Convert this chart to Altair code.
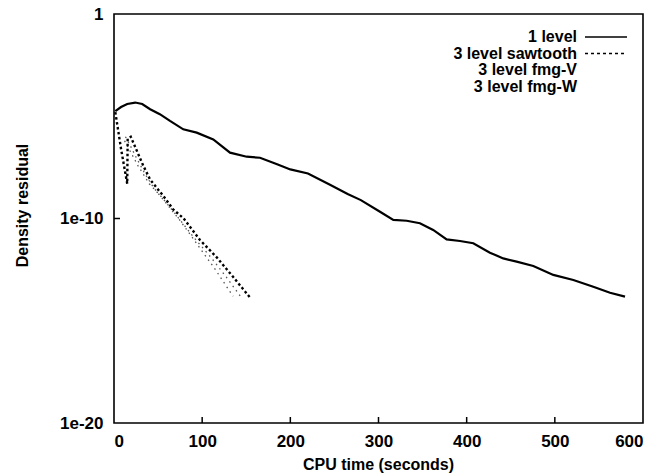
import altair as alt
import pandas as pd

# ---------------- data ----------------
one_t = [1.5, 8, 15, 24, 32, 41, 52, 63.5, 78.6, 93.8, 112.6, 131.6, 150.5, 165.6,
         185, 200, 220, 245, 265, 280, 301.7, 316.8, 332, 347, 362, 377.3, 392.4,
         407.5, 426.4, 441.5, 456.7, 475.6, 498.3, 521, 543.6, 562.6, 579.6]
one_r = [1.78e-5, 2.82e-5, 3.98e-5, 4.68e-5, 3.98e-5, 2.19e-5, 1.26e-5, 5.89e-6,
         2.29e-6, 1.58e-6, 7.41e-7, 1.66e-7, 1.05e-7, 9.33e-8, 4.47e-8, 2.51e-8,
         1.58e-8, 4.47e-9, 1.58e-9, 7.94e-10, 2.14e-10, 8.51e-11, 7.76e-11, 5.89e-11,
         2.75e-11, 9.55e-12, 7.94e-12, 6.17e-12, 2.14e-12, 1.12e-12, 7.76e-13,
         4.79e-13, 1.74e-13, 9.77e-14, 4.57e-14, 2.34e-14, 1.51e-14]

saw_t = [1.5, 8, 15, 15.5, 19, 25, 33, 41, 56, 67, 79, 97.5, 116.5, 135, 154]
saw_r = [1.58e-5, 2.51e-7, 5.01e-9, 7.94e-7, 1.0e-6, 2.51e-7, 3.98e-8, 7.94e-9,
         1.26e-9, 2.82e-10, 1.0e-10, 8.91e-12, 1.26e-12, 1.41e-13, 1.41e-14]

fmgv_t = [13, 18, 25, 35, 45, 60, 75, 95, 115, 135]
fmgv_r = [1.0e-6, 3.98e-7, 1.0e-7, 1.58e-8, 3.16e-9, 5.01e-10, 7.94e-11, 5.01e-12,
          3.16e-13, 1.58e-14]

fmgw_t = [12, 17, 27, 40, 55, 70, 90, 110, 128, 145]
fmgw_r = [6.31e-7, 2.51e-7, 3.98e-8, 5.01e-9, 1.0e-9, 1.58e-10, 1.26e-11, 1.26e-12,
          1.26e-13, 1.26e-14]

series_names = ["1 level", "3 level sawtooth", "3 level fmg-V", "3 level fmg-W"]
x_ticks = [0, 100, 200, 300, 400, 500, 600]
y_ticks = [1e-20, 1e-10, 1]

# ---------------- layout / style ----------------
W, H = 529, 409
FONT = "Liberation Sans, Arial, Helvetica"
FS = 16


def X():
    return alt.X(
        "t:Q",
        scale=alt.Scale(domain=[0, 600], nice=False, zero=False),
        axis=alt.Axis(values=x_ticks, title="CPU time (seconds)", grid=False,
                      ticks=False, domain=False, labelPadding=10,
                      titleX=264, titleY=41, titleBaseline="middle",
                      titleAnchor="middle"),
    )


def Y():
    return alt.Y(
        "r:Q",
        scale=alt.Scale(type="log", domain=[1e-20, 1], nice=False),
        axis=alt.Axis(values=y_ticks, title="Density residual", grid=False,
                      ticks=False, domain=False, labelPadding=11,
                      labelExpr="datum.value >= 0.5 ? '1' : (datum.value < 1e-15 ? '1e-20' : '1e-10')",
                      titleX=-92, titleY=191, titleBaseline="middle",
                      titleAnchor="middle"),
    )


def df(t, r, name):
    return pd.DataFrame({"t": t, "r": r, "series": name})


one = alt.Chart(df(one_t, one_r, series_names[0])).mark_line(
    color="black", strokeWidth=2.2).encode(x=X(), y=Y())
saw = alt.Chart(df(saw_t, saw_r, series_names[1])).mark_line(
    color="black", strokeWidth=2.4, strokeDash=[2.5, 2.5]).encode(x=X(), y=Y())
fv = alt.Chart(df(fmgv_t, fmgv_r, series_names[2])).mark_line(
    color="#555555", strokeWidth=1.3, strokeDash=[1.5, 4]).encode(x=X(), y=Y())
fw = alt.Chart(df(fmgw_t, fmgw_r, series_names[3])).mark_line(
    color="#555555", strokeWidth=1.3, strokeDash=[1.5, 4]).encode(x=X(), y=Y())

# inward tick marks
xt = pd.DataFrame({"t": x_ticks[1:-1]})
xticks = alt.Chart(xt).mark_rule(color="black", strokeWidth=1.5).encode(
    x=X(), y=alt.value(H), y2=alt.value(H - 6))
yt = pd.DataFrame({"r": [1e-10]})
yticks = alt.Chart(yt).mark_rule(color="black", strokeWidth=1.5).encode(
    y=Y(), x=alt.value(0), x2=alt.value(6))

# legend (text right-aligned with samples on the right)
leg_rows = []
row_y = [23, 39.5, 56, 72.5]
for i, name in enumerate(series_names):
    leg_rows.append(
        alt.Chart(pd.DataFrame({"label": [name]})).mark_text(
            align="right", baseline="middle", font=FONT, fontSize=FS,
            fontWeight="bold", color="black").encode(
            text="label:N", x=alt.value(463), y=alt.value(row_y[i])))

leg_one = alt.Chart(pd.DataFrame({"label": [series_names[0]]})).mark_rule(
    color="black", strokeWidth=1.6).encode(
    x=alt.value(471), x2=alt.value(513), y=alt.value(row_y[0]), detail="label:N")
leg_saw = alt.Chart(pd.DataFrame({"label": [series_names[1]]})).mark_rule(
    color="black", strokeWidth=1.6, strokeDash=[3, 3]).encode(
    x=alt.value(471), x2=alt.value(513), y=alt.value(row_y[1]), detail="label:N")

chart = alt.layer(fw, fv, saw, one, xticks, yticks, leg_one, leg_saw, *leg_rows).properties(
    width=W, height=H,
    padding={"left": 114, "top": 14, "right": 17, "bottom": 50},
    autosize=alt.AutoSizeParams(type="none"),
    background="white",
).configure_view(
    stroke="black", strokeWidth=1.6
).configure_axis(
    labelFont=FONT, labelFontSize=FS + 1, labelFontWeight="bold", labelColor="black",
    titleFont=FONT, titleFontSize=FS, titleFontWeight="bold", titleColor="black",
)

chart.save("out.html", embed_options={"renderer": "svg", "actions": False})
